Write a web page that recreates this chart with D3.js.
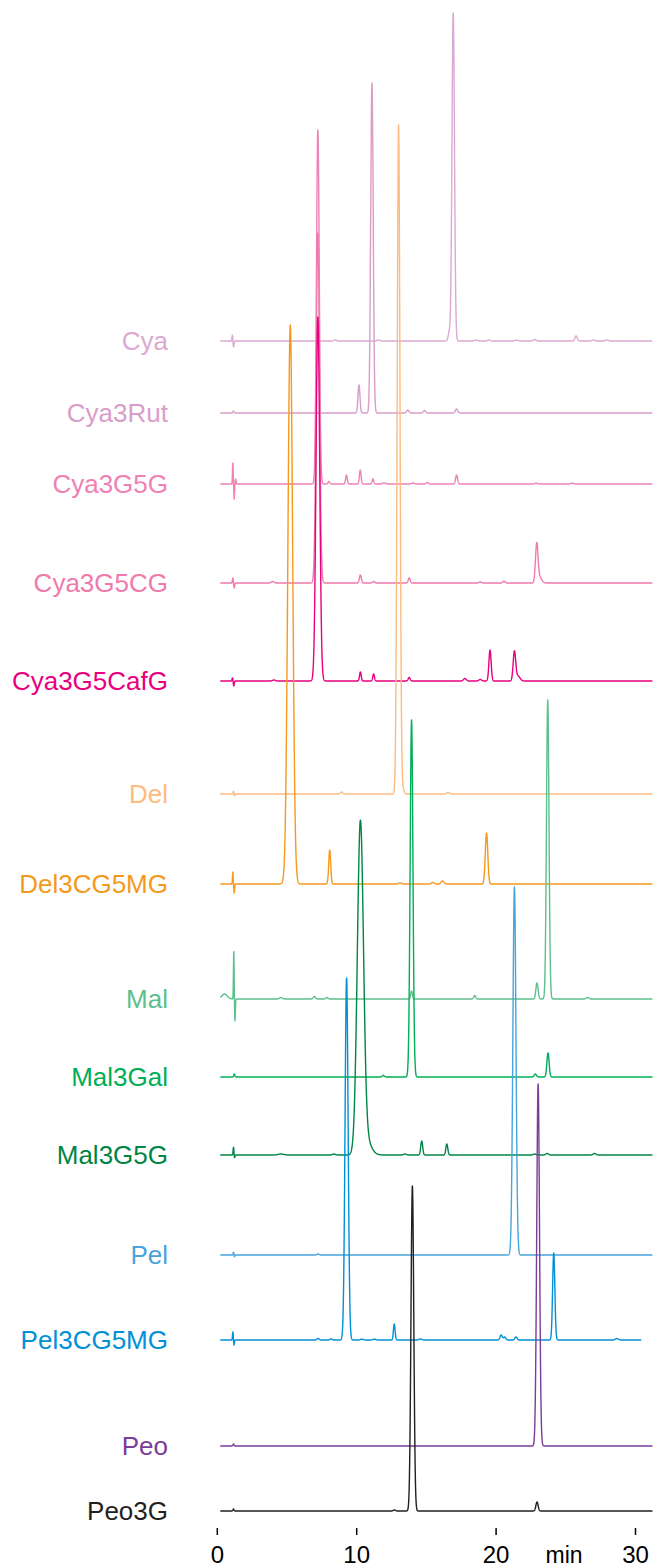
<!DOCTYPE html>
<html>
<head>
<meta charset="utf-8">
<script src="https://cdn.jsdelivr.net/npm/d3@7"></script>
<style>
  html, body { margin: 0; padding: 0; background: #fff; }
  svg { display: block; font-family: "Liberation Sans", Arial, sans-serif; }
</style>
</head>
<body>
<div id="chart"></div>
<script>
// sample names, top to bottom
var names = ["Cya", "Cya3Rut", "Cya3G5G", "Cya3G5CG", "Cya3G5CafG", "Del", "Del3CG5MG",
  "Mal", "Mal3Gal", "Mal3G5G", "Pel", "Pel3CG5MG", "Peo", "Peo3G"];

var colors = ["#dba9d2", "#d99dc9", "#f081b4", "#f07aac", "#e8007f", "#fdbb7f", "#f5991c",
  "#5cbf8c", "#00ae57", "#008544", "#47a4dc", "#0090d8", "#7a3d98", "#231f20"];

// vertical offset of each trace (same units as the signal)
var offsets = [1170, 1098, 1027, 928, 830, 717, 627, 512, 434, 356, 256, 171, 65, 0];

// run start / end (min)
var runStart = 0.25;
var runEnd = [31.25, 31.25, 31.25, 31.25, 31.25, 31.25, 31.25, 31.25, 31.25, 31.25, 31.25, 30.45, 31.25, 31.25];

// peaks: [retention time (min), height, width (min)]
var peaksCya = [[1.12, 6, 0.03], [1.2, -6, 0.03], [8.5, 1, 0.1], [11.6, 1, 0.1], [16.68, 9, 0.08],
  [16.96, 328, 0.09], [18.6, 1, 0.1], [19.5, 1, 0.1], [21.5, 1, 0.1], [22.8, 1.5, 0.1],
  [25.77, 5, 0.08], [27, 1, 0.1], [28, 1, 0.1]];
var peaksCya3Rut = [[1.2, 2, 0.04], [10.2, 28, 0.07], [11.13, 330, 0.09], [13.7, 3, 0.08],
  [14.9, 2.5, 0.08], [17.2, 4, 0.08]];
var peaksCya3G5G = [[1.15, 21, 0.025], [1.25, -15, 0.025], [1.35, 5, 0.03], [7.25, 354, 0.1],
  [8.04, 2.5, 0.06], [9.3, 9, 0.06], [10.29, 14, 0.06], [11.2, 5, 0.06], [12.0, 1, 0.1],
  [14.07, 1, 0.1], [15.1, 1.5, 0.08], [17.2, 9, 0.07], [22.9, 0.8, 0.1], [25.5, 0.8, 0.1]];
var peaksCya3G5CG = [[1.15, 5, 0.03], [1.25, -5, 0.03], [4.0, 1.5, 0.1], [7.25, 350, 0.12],
  [10.3, 8, 0.07], [11.25, 1.5, 0.08], [13.8, 5, 0.07], [18.9, 1, 0.1], [20.6, 2, 0.08],
  [22.95, 38, 0.09], [23.15, 6, 0.15]];
var peaksCya3G5CafG = [[1.12, 3, 0.03], [1.22, -5, 0.03], [4.1, 1, 0.1], [7.25, 364, 0.13],
  [10.3, 9, 0.06], [11.25, 7, 0.06], [13.8, 3.5, 0.07], [17.8, 2.5, 0.1], [18.9, 1.5, 0.1],
  [19.6, 31, 0.08], [21.35, 29, 0.09], [21.6, 5, 0.15]];
var peaksDel = [[1.2, 3, 0.03], [1.27, -2, 0.03], [8.95, 2, 0.08], [13.04, 669, 0.1],
  [13.35, 5, 0.08], [16.6, 1.5, 0.1]];
var peaksDel3CG5MG = [[1.15, 12, 0.025], [1.25, -9, 0.025], [5.27, 559, 0.17], [8.1, 34, 0.07],
  [13.15, 1, 0.1], [15.5, 1.5, 0.1], [16.2, 3, 0.1], [19.35, 51, 0.09]];
var peaksMal = [[0.55, 5, 0.2], [1.22, 48, 0.025], [1.3, -22, 0.03], [4.6, 1.5, 0.1], [7.0, 2.5, 0.08],
  [7.9, 1.5, 0.08], [13.97, 8, 0.06], [18.5, 3.5, 0.07], [22.97, 16, 0.08], [23.74, 299, 0.09],
  [26.6, 1.5, 0.1]];
var peaksMal3Gal = [[1.25, 3, 0.04], [11.94, 1.5, 0.08], [13.97, 357, 0.1], [22.85, 3, 0.08],
  [23.76, 24, 0.08]];
var peaksMal3G5G = [[1.2, 8, 0.03], [1.27, -3, 0.03], [4.6, 1, 0.2], [8.4, 1, 0.1], [10.3, 327, 0.22],
  [10.7, 15, 0.35], [13.5, 1, 0.1], [14.7, 14, 0.07], [16.5, 11, 0.07], [22.8, 1, 0.1],
  [23.7, 1.5, 0.1], [27.1, 1.5, 0.1]];
var peaksPel = [[1.2, 3, 0.03], [1.26, -2, 0.03], [7.27, 1, 0.08], [21.35, 368, 0.11]];
var peaksPel3CG5MG = [[1.15, 8, 0.025], [1.24, -5, 0.025], [7.27, 1.5, 0.08], [8.2, 1, 0.08],
  [9.31, 362, 0.11], [10.4, 0.8, 0.1], [11.3, 0.8, 0.1], [12.73, 16, 0.06], [14.6, 1, 0.1],
  [20.4, 5, 0.08], [20.65, 3, 0.08], [21.46, 3, 0.08], [24.17, 87, 0.08], [28.7, 1.5, 0.1]];
var peaksPeo = [[1.2, 2, 0.04], [23.05, 362, 0.1]];
var peaksPeo3G = [[1.2, 2, 0.04], [12.74, 1, 0.08], [14.03, 325, 0.1], [22.97, 9, 0.08]];

var allPeaks = [peaksCya, peaksCya3Rut, peaksCya3G5G, peaksCya3G5CG, peaksCya3G5CafG, peaksDel,
  peaksDel3CG5MG, peaksMal, peaksMal3Gal, peaksMal3G5G, peaksPel, peaksPel3CG5MG, peaksPeo, peaksPeo3G];

var xTicks = [0, 10, 20, 30];

// layout
var width = 655,
  height = 1568;

var x = d3.scaleLinear().domain([0, 30]).range([216.8, 635]);
var y = d3.scaleLinear().domain([0, 1500]).range([1511, 11]);

var svg = d3.select("#chart")
  .append("svg")
  .attr("width", width)
  .attr("height", height);

// build the trace of one sample from its peak list
function trace(peaks, end) {
  var pts = [];
  for (var t = runStart; t <= end + 1e-9; t += 0.01) {
    var v = 0;
    peaks.forEach(function(p) {
      var d = (t - p[0]) / p[2];
      if (Math.abs(d) < 8) v += p[1] * Math.exp(-0.5 * d * d);
    });
    pts.push([t, v]);
  }
  return pts;
}

var line = d3.line()
  .x(function(d) { return x(d[0]); })
  .y(function(d) { return d[1]; });

names.forEach(function(name, i) {
  var pts = trace(allPeaks[i], runEnd[i]).map(function(d) {
    return [d[0], y(offsets[i] + d[1])];
  });

  svg.append("path")
    .attr("d", line(pts))
    .attr("fill", "none")
    .attr("stroke", colors[i])
    .attr("stroke-width", 1.4)
    .attr("stroke-linejoin", "round");

  svg.append("text")
    .attr("x", 168)
    .attr("y", y(offsets[i]) + 9)
    .attr("text-anchor", "end")
    .attr("font-size", 26)
    .attr("fill", colors[i])
    .text(name);
});

// time axis
var axis = svg.append("g")
  .attr("transform", "translate(0,1528)")
  .call(d3.axisBottom(x).tickValues(xTicks).tickSize(7).tickPadding(0));

axis.select(".domain").remove();
axis.selectAll(".tick line").attr("stroke", "#000").attr("stroke-width", 1.5);
axis.selectAll(".tick text")
  .attr("dy", null)
  .attr("y", 35)
  .attr("font-size", 24)
  .attr("font-family", "Liberation Sans, Arial, sans-serif")
  .attr("fill", "#000");

svg.append("text")
  .attr("x", 564)
  .attr("y", 1563)
  .attr("text-anchor", "middle")
  .attr("font-size", 23)
  .attr("fill", "#000")
  .text("min");
</script>
</body>
</html>
